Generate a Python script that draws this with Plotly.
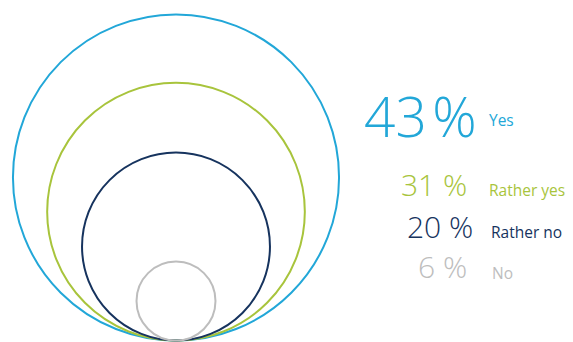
import plotly.graph_objects as go

# Data
categories = ["Yes", "Rather yes", "Rather no", "No"]
values = [43, 31, 20, 6]
colors = ["#22A7D8", "#A8C43C", "#16335E", "#BDBDBD"]

# Layout constants (pixel-based axis)
W, H = 573, 342
CX, BOTTOM = 176, 340.5
R_SCALE, R_EXP = 10.87, 0.72

fig = go.Figure()
fig.add_trace(go.Scatter(x=[0, W], y=[0, H], mode="markers",
                         marker=dict(opacity=0), hoverinfo="skip", showlegend=False))

shapes = []
for v, c in zip(values, colors):
    r = R_SCALE * v ** R_EXP
    shapes.append(dict(type="circle", xref="x", yref="y",
                       x0=CX - r, x1=CX + r, y0=BOTTOM - 2 * r, y1=BOTTOM,
                       line=dict(color=c, width=2), fillcolor="rgba(0,0,0,0)"))

# text placement
pct_right = [479, 469, 475, 469]
pct_mid = [115, 184, 226, 266]
pct_size = [55, 30, 30, 30]
pct_sep = ["\u200a", " ", " ", " "]
lab_left = [487, 487, 489, 490]
lab_mid = [120, 190, 232, 273]
lab_size = [15.5, 15.5, 15.5, 15.5]

annotations = []
for i, (cat, v, c) in enumerate(zip(categories, values, colors)):
    annotations.append(dict(x=pct_right[i], y=pct_mid[i], xref="x", yref="y",
                            text=f"{v}{pct_sep[i]}%", showarrow=False, xanchor="right", yanchor="middle",
                            font=dict(family="Open Sans", size=pct_size[i], color=c, weight=300)))
    annotations.append(dict(x=lab_left[i], y=lab_mid[i], xref="x", yref="y",
                            text=cat, showarrow=False, xanchor="left", yanchor="middle",
                            font=dict(family="Open Sans", size=lab_size[i], color=c)))

fig.update_layout(
    width=W, height=H, margin=dict(l=0, r=0, t=0, b=0),
    paper_bgcolor="white", plot_bgcolor="white",
    xaxis=dict(range=[0, W], visible=False, fixedrange=True),
    yaxis=dict(range=[H, 0], visible=False, fixedrange=True),
    shapes=shapes, annotations=annotations, showlegend=False,
)
fig.write_html("out.html", config={"displayModeBar": False},
               post_script="document.body.style.margin='0';document.body.style.overflow='hidden';")
